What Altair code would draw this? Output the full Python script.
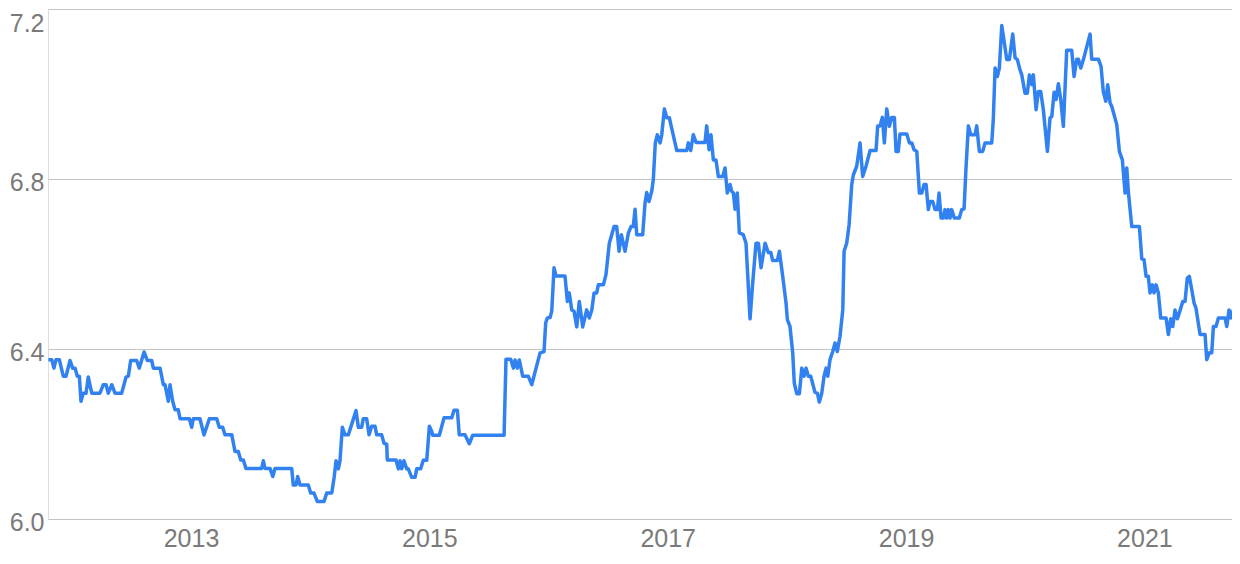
import altair as alt
import pandas as pd

# Decimal-year positions and exchange-rate values
years = [
    2011.803, 2011.831, 2011.850, 2011.867, 2011.895, 2011.928, 2011.951, 2011.985, 2012.007, 2012.027,
    2012.046, 2012.063, 2012.077, 2012.096, 2012.119, 2012.138, 2012.167, 2012.236, 2012.264, 2012.287,
    2012.306, 2012.335, 2012.362, 2012.418, 2012.455, 2012.474, 2012.494, 2012.544, 2012.566, 2012.606,
    2012.633, 2012.670, 2012.684, 2012.740, 2012.768, 2012.782, 2012.809, 2012.824, 2012.846, 2012.866,
    2012.893, 2012.908, 2012.986, 2013.006, 2013.019, 2013.075, 2013.109, 2013.154, 2013.216, 2013.237,
    2013.266, 2013.285, 2013.342, 2013.369, 2013.397, 2013.417, 2013.439, 2013.461, 2013.593, 2013.607,
    2013.621, 2013.663, 2013.686, 2013.705, 2013.845, 2013.858, 2013.881, 2013.895, 2013.915, 2013.984,
    2014.004, 2014.032, 2014.060, 2014.116, 2014.139, 2014.181, 2014.202, 2014.217, 2014.236, 2014.250,
    2014.270, 2014.292, 2014.320, 2014.385, 2014.404, 2014.432, 2014.446, 2014.474, 2014.494, 2014.516,
    2014.544, 2014.558, 2014.600, 2014.620, 2014.642, 2014.647, 2014.720, 2014.740, 2014.754, 2014.768,
    2014.787, 2014.810, 2014.823, 2014.852, 2014.880, 2014.894, 2014.927, 2014.949, 2014.978, 2015.000,
    2015.020, 2015.028, 2015.084, 2015.123, 2015.188, 2015.207, 2015.235, 2015.251, 2015.299, 2015.335,
    2015.364, 2015.627, 2015.643, 2015.683, 2015.705, 2015.719, 2015.738, 2015.755, 2015.783, 2015.830,
    2015.859, 2015.929, 2015.962, 2015.976, 2015.990, 2016.013, 2016.027, 2016.046, 2016.063, 2016.138,
    2016.158, 2016.174, 2016.195, 2016.214, 2016.237, 2016.258, 2016.287, 2016.320, 2016.342, 2016.363,
    2016.382, 2016.404, 2016.418, 2016.460, 2016.482, 2016.510, 2016.550, 2016.572, 2016.592, 2016.611,
    2016.642, 2016.670, 2016.692, 2016.711, 2016.726, 2016.740, 2016.790, 2016.810, 2016.824, 2016.843,
    2016.866, 2016.879, 2016.896, 2016.913, 2016.936, 2016.950, 2016.972, 2016.992, 2017.014, 2017.076,
    2017.160, 2017.173, 2017.193, 2017.215, 2017.238, 2017.313, 2017.327, 2017.347, 2017.363, 2017.383,
    2017.405, 2017.425, 2017.462, 2017.481, 2017.500, 2017.523, 2017.537, 2017.551, 2017.565, 2017.584,
    2017.601, 2017.634, 2017.657, 2017.691, 2017.713, 2017.741, 2017.761, 2017.783, 2017.817, 2017.844,
    2017.865, 2017.881, 2017.920, 2017.937, 2017.965, 2017.993, 2018.004, 2018.026, 2018.049, 2018.062,
    2018.083, 2018.105, 2018.125, 2018.144, 2018.161, 2018.180, 2018.200, 2018.236, 2018.256, 2018.272,
    2018.292, 2018.312, 2018.329, 2018.343, 2018.362, 2018.385, 2018.404, 2018.423, 2018.446, 2018.469,
    2018.480, 2018.502, 2018.522, 2018.544, 2018.558, 2018.586, 2018.614, 2018.636, 2018.664, 2018.698,
    2018.748, 2018.762, 2018.782, 2018.801, 2018.818, 2018.838, 2018.860, 2018.880, 2018.902, 2018.916,
    2018.935, 2018.949, 2019.006, 2019.028, 2019.048, 2019.067, 2019.090, 2019.112, 2019.132, 2019.151,
    2019.168, 2019.187, 2019.201, 2019.224, 2019.243, 2019.263, 2019.277, 2019.294, 2019.313, 2019.327,
    2019.341, 2019.355, 2019.369, 2019.383, 2019.405, 2019.447, 2019.467, 2019.487, 2019.503, 2019.523,
    2019.543, 2019.579, 2019.593, 2019.615, 2019.643, 2019.663, 2019.719, 2019.732, 2019.747, 2019.766,
    2019.783, 2019.803, 2019.825, 2019.845, 2019.867, 2019.895, 2019.915, 2019.934, 2019.956, 2019.971,
    2019.998, 2020.018, 2020.035, 2020.055, 2020.068, 2020.091, 2020.110, 2020.130, 2020.152, 2020.186,
    2020.208, 2020.223, 2020.242, 2020.259, 2020.278, 2020.298, 2020.320, 2020.348, 2020.390, 2020.410,
    2020.432, 2020.446, 2020.466, 2020.488, 2020.544, 2020.558, 2020.614, 2020.636, 2020.655, 2020.676,
    2020.692, 2020.712, 2020.726, 2020.768, 2020.790, 2020.815, 2020.838, 2020.852, 2020.865, 2020.894,
    2020.958, 2020.978, 2020.997, 2021.014, 2021.033, 2021.047, 2021.067, 2021.081, 2021.098, 2021.117,
    2021.137, 2021.182, 2021.201, 2021.221, 2021.238, 2021.257, 2021.277, 2021.293, 2021.322, 2021.341,
    2021.360, 2021.377, 2021.397, 2021.417, 2021.433, 2021.467, 2021.509, 2021.523, 2021.545, 2021.565,
    2021.579, 2021.601, 2021.621, 2021.677, 2021.691, 2021.710, 2021.725, 2021.747, 2021.767, 2021.783,
]

rates = [
    6.375, 6.375, 6.355, 6.375, 6.375, 6.336, 6.336, 6.373, 6.355, 6.355,
    6.336, 6.336, 6.277, 6.296, 6.296, 6.334, 6.296, 6.296, 6.316, 6.316,
    6.296, 6.316, 6.296, 6.296, 6.334, 6.336, 6.373, 6.373, 6.355, 6.393,
    6.373, 6.373, 6.355, 6.355, 6.316, 6.316, 6.277, 6.316, 6.277, 6.257,
    6.257, 6.236, 6.236, 6.216, 6.236, 6.236, 6.198, 6.236, 6.236, 6.216,
    6.216, 6.198, 6.198, 6.159, 6.159, 6.139, 6.139, 6.119, 6.119, 6.137,
    6.119, 6.119, 6.100, 6.119, 6.119, 6.080, 6.080, 6.100, 6.080, 6.080,
    6.061, 6.061, 6.041, 6.041, 6.061, 6.061, 6.100, 6.137, 6.118, 6.137,
    6.216, 6.198, 6.198, 6.255, 6.216, 6.216, 6.236, 6.236, 6.198, 6.218,
    6.218, 6.198, 6.198, 6.178, 6.176, 6.139, 6.139, 6.118, 6.137, 6.118,
    6.137, 6.118, 6.118, 6.098, 6.098, 6.118, 6.118, 6.138, 6.138, 6.218,
    6.206, 6.197, 6.197, 6.238, 6.238, 6.256, 6.256, 6.198, 6.198, 6.177,
    6.197, 6.197, 6.376, 6.376, 6.355, 6.374, 6.355, 6.374, 6.336, 6.336,
    6.316, 6.391, 6.394, 6.461, 6.473, 6.474, 6.489, 6.591, 6.572, 6.572,
    6.512, 6.532, 6.492, 6.489, 6.452, 6.512, 6.452, 6.492, 6.473, 6.492,
    6.532, 6.532, 6.551, 6.551, 6.575, 6.649, 6.688, 6.688, 6.630, 6.669,
    6.630, 6.673, 6.688, 6.688, 6.729, 6.669, 6.669, 6.744, 6.768, 6.747,
    6.771, 6.798, 6.885, 6.904, 6.885, 6.904, 6.965, 6.944, 6.944, 6.867,
    6.867, 6.885, 6.867, 6.904, 6.886, 6.886, 6.925, 6.869, 6.904, 6.845,
    6.845, 6.806, 6.806, 6.826, 6.767, 6.787, 6.771, 6.767, 6.729, 6.767,
    6.673, 6.669, 6.649, 6.471, 6.555, 6.649, 6.649, 6.591, 6.649, 6.627,
    6.627, 6.608, 6.608, 6.630, 6.571, 6.508, 6.469, 6.453, 6.391, 6.320,
    6.295, 6.295, 6.355, 6.336, 6.355, 6.336, 6.336, 6.298, 6.296, 6.275,
    6.295, 6.336, 6.355, 6.336, 6.375, 6.394, 6.414, 6.394, 6.430, 6.492,
    6.630, 6.649, 6.692, 6.787, 6.810, 6.830, 6.885, 6.806, 6.830, 6.867,
    6.867, 6.925, 6.925, 6.945, 6.885, 6.965, 6.924, 6.945, 6.945, 6.865,
    6.865, 6.906, 6.906, 6.885, 6.885, 6.869, 6.865, 6.767, 6.767, 6.787,
    6.787, 6.728, 6.747, 6.747, 6.728, 6.728, 6.767, 6.708, 6.708, 6.728,
    6.708, 6.728, 6.708, 6.728, 6.708, 6.708, 6.728, 6.730, 6.826, 6.925,
    6.904, 6.904, 6.925, 6.865, 6.865, 6.885, 6.885, 6.940, 7.061, 7.041,
    7.061, 7.161, 7.120, 7.081, 7.081, 7.141, 7.085, 7.081, 7.057, 7.045,
    7.002, 7.002, 7.045, 7.022, 7.045, 6.963, 7.006, 7.006, 6.963, 6.865,
    6.944, 6.947, 7.004, 6.987, 7.024, 6.987, 6.924, 7.103, 7.103, 7.041,
    7.082, 7.082, 7.061, 7.081, 7.141, 7.082, 7.082, 7.065, 7.006, 6.983,
    7.022, 6.979, 6.971, 6.928, 6.865, 6.845, 6.767, 6.826, 6.771, 6.688,
    6.688, 6.612, 6.610, 6.571, 6.571, 6.532, 6.551, 6.532, 6.551, 6.532,
    6.473, 6.473, 6.434, 6.471, 6.453, 6.492, 6.471, 6.485, 6.512, 6.512,
    6.567, 6.571, 6.540, 6.508, 6.496, 6.434, 6.434, 6.375, 6.391, 6.391,
    6.453, 6.453, 6.473, 6.473, 6.453, 6.492, 6.473, 6.492, 6.478, 6.457,
]

x_ticks = [2013, 2015, 2017, 2019, 2021]
y_ticks = [6.0, 6.4, 6.8, 7.2]
x_domain = [2011.8, 2021.735]
y_domain = [6.0, 7.2]

df = pd.DataFrame({"year": years, "rate": rates})

FONT = "Liberation Sans"
LABEL_COLOR = "#7a7a7a"

chart = (
    alt.Chart(df)
    .mark_line(color="#3182f0", strokeWidth=3.5, strokeJoin="round", strokeCap="butt", clip=True)
    .encode(
        x=alt.X(
            "year:Q",
            scale=alt.Scale(domain=x_domain, nice=False, zero=False),
            axis=alt.Axis(
                values=x_ticks,
                format="d",
                title=None,
                grid=False,
                domain=False,
                ticks=False,
                tickSize=0,
                labelPadding=7,
                labelFont=FONT,
                labelFontSize=25,
                labelColor=LABEL_COLOR,
                labelFlush=False,
                labelOverlap=False,
            ),
        ),
        y=alt.Y(
            "rate:Q",
            scale=alt.Scale(domain=y_domain, nice=False, zero=False),
            axis=alt.Axis(
                values=y_ticks,
                format=".1f",
                title=None,
                grid=True,
                gridColor="#c4c4c4",
                gridWidth=1,
                domain=False,
                ticks=False,
                tickSize=0,
                labelPadding=4,
                labelFont=FONT,
                labelFontSize=25,
                labelColor=LABEL_COLOR,
                labelFlush=False,
                labelOverlap=False,
                labelOffset={"condition": {"test": "datum.value >= 7.1", "value": 14}, "value": 3},
            ),
        ),
    )
    .properties(
        width=1184,
        height=510,
        autosize=alt.AutoSizeParams(type="none"),
        padding={"left": 40, "top": 1, "right": 0, "bottom": 33},
    )
    .configure_view(stroke=None)
    .configure(background="white")
)

chart.save("out.html", embed_options={"renderer": "svg", "actions": False})
